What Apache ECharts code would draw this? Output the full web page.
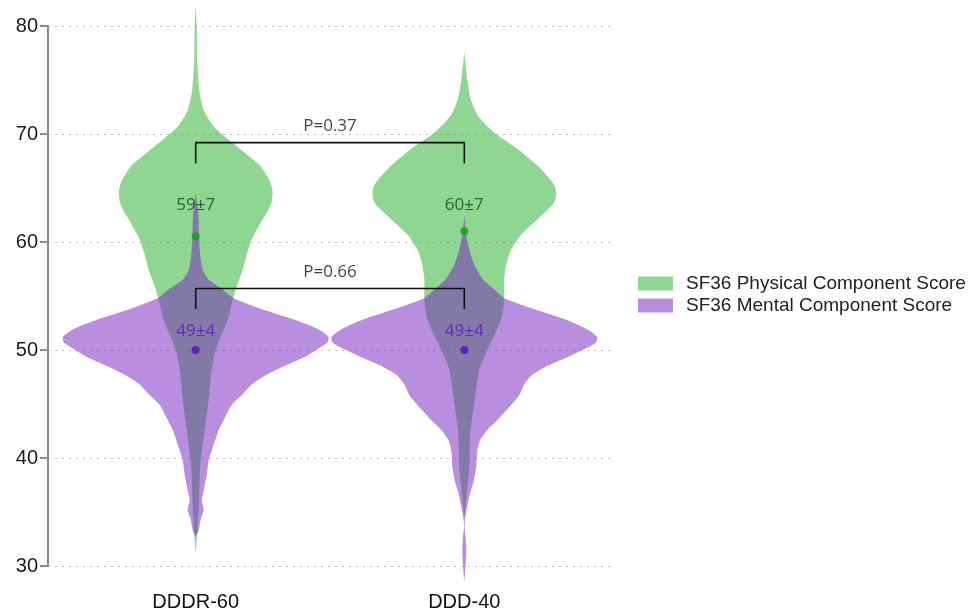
<!DOCTYPE html>
<html>
<head>
<meta charset="utf-8">
<title>SF36 violin</title>
<script src="https://cdn.jsdelivr.net/npm/echarts@6/dist/echarts.min.js"></script>
<style>
  html, body { margin: 0; padding: 0; background: #fff; }
  #chart { width: 969px; height: 613px; }
</style>
</head>
<body>
<div id="chart"></div>
<script>
// groups on the x axis (positions 1 and 2)
const groups = ["DDDR-60", "DDD-40"];
const seriesNames = ["SF36 Physical Component Score", "SF36 Mental Component Score"];

// violin outlines: [score, half width of the density]
const pcsDDDR60 = [[81.9, 0], [80, 1], [76.9, 1.5], [74.1, 3.5], [72.2, 8], [70.8, 17], [70, 26], [68.5, 46], [67.1, 64],
  [65.7, 74], [65, 76.5], [64.4, 77], [63.7, 76], [63, 73], [61.6, 64], [60.2, 56], [58.8, 51], [57.4, 47], [55.6, 40],
  [54.6, 37], [52.8, 32], [50, 20], [48.2, 16], [45.4, 13], [42.6, 9], [39.2, 4.5], [36.1, 3.3], [33.6, 2], [31.2, 0]];
const pcsDDD40 = [[77.6, 0], [75, 3], [73.2, 6.5], [71.8, 13], [70.8, 22], [69.9, 33], [68.5, 55], [67.1, 73], [65.7, 87],
  [65.1, 91], [64.5, 92], [63.9, 91], [63.4, 88], [62, 72], [60.7, 57], [59.3, 47], [57.9, 42], [56.5, 40], [54.6, 40],
  [52.8, 37], [50, 23], [48.2, 15], [45.1, 10], [42.3, 6], [39.2, 5], [36.8, 2.5], [34.5, 0]];
const mcsDDDR60 = [[64.5, 0], [62.7, 2.5], [60.2, 3.5], [58.8, 4.5], [57.4, 7], [56.5, 13], [55.6, 27], [54.8, 38],
  [53.7, 69], [52.8, 99], [52.2, 116], [51.7, 127], [51.2, 133], [50.7, 132], [50.2, 124], [49.5, 112], [48.6, 91],
  [47.7, 71], [46.8, 56], [45.8, 46], [44.9, 36], [43.5, 28], [42.6, 23], [40.7, 16], [39.8, 13], [38.4, 11], [37, 8],
  [36.1, 6], [35.2, 8], [34.3, 5], [33.3, 3], [32.7, 0]];
const mcsDDD40 = [[62.5, 0], [60.9, 1.5], [59.3, 5], [57.9, 10], [56.5, 19], [55.6, 30], [54.8, 40], [53.7, 73],
  [52.8, 102], [52.2, 117], [51.7, 127], [51.2, 133], [50.7, 132], [50.2, 123], [49.5, 107], [48.6, 85], [47.7, 68],
  [46.8, 60], [45.8, 55], [44.9, 47], [43.5, 33], [42.6, 23], [41.7, 16], [40.7, 13], [39.2, 12], [37.7, 9], [36.8, 6],
  [35.5, 3], [34.3, 0.7], [33.6, 0.3], [32.4, 1.5], [31.5, 2], [30.3, 1.5], [28.5, 0]];

// means, text shown beside them
const pcsMeans = [60.5, 61.0];
const mcsMeans = [50, 50];
const pcsText = ["59±7", "60±7"];
const mcsText = ["49±4", "49±4"];
const pcsTextAt = [63.4, 63.4];
const mcsTextAt = [51.7, 51.7];

// comparison brackets
const bracketTop = [69.2, 55.7];
const bracketDrop = 1.9;
const pValues = ["P=0.37", "P=0.66"];

const widthScale = 1 / 269;

const chart = echarts.init(document.getElementById("chart"), null, { renderer: "canvas" });

function violin(profiles) {
  return function (params, api) {
    const cx = api.value(0);
    const prof = profiles[params.dataIndex];
    const right = prof.map((p) => api.coord([cx + p[1] * widthScale, p[0]]));
    const left = prof.slice().reverse().map((p) => api.coord([cx - p[1] * widthScale, p[0]]));
    return {
      type: "polygon",
      shape: { points: right.concat(left), smooth: 0.2 },
      style: { fill: api.visual("color") }
    };
  };
}

const groupData = groups.map((g, i) => [i + 1, 50]);

const brackets = bracketTop.map((top) => ({
  type: "line",
  silent: true,
  symbol: "none",
  lineStyle: { color: "#111", width: 1.6 },
  data: [[1, top - bracketDrop], [1, top], [2, top], [2, top - bracketDrop]],
  z: 5
}));

const textFont = "'Open Sans', sans-serif";
const axisFont = "'Liberation Sans', Arial, sans-serif";

chart.setOption({
  animation: false,
  grid: { left: 48, right: 357, top: 26, bottom: 47 },
  legend: {
    data: seriesNames,
    orient: "vertical",
    left: 633,
    top: 269,
    icon: "rect",
    itemWidth: 35,
    itemHeight: 14,
    itemGap: 3,
    textStyle: { fontFamily: axisFont, fontSize: 19, color: "#222", padding: [0, 0, 0, 8] }
  },
  xAxis: {
    type: "value",
    min: 0.45,
    max: 2.55,
    interval: 0.05,
    axisLine: { show: false },
    axisTick: { show: false },
    splitLine: { show: false },
    axisLabel: {
      margin: 26,
      fontFamily: axisFont,
      fontSize: 20,
      color: "#111",
      formatter: (v) => {
        const k = Math.round(v);
        return Math.abs(v - k) < 1e-6 && groups[k - 1] ? groups[k - 1] : "";
      }
    }
  },
  yAxis: {
    type: "value",
    min: 30,
    max: 80,
    interval: 10,
    axisLine: { show: true, lineStyle: { color: "#8a8a8a", width: 2 } },
    axisTick: { show: true, length: 8, lineStyle: { color: "#8a8a8a", width: 2 } },
    splitLine: { show: true, lineStyle: { color: "#bdbdbd", width: 1, type: [2, 5] } },
    axisLabel: {
      margin: 10,
      fontFamily: axisFont,
      fontSize: 20,
      color: "#1a1a1a"
    }
  },
  series: [
    {
      name: seriesNames[0],
      type: "custom",
      renderItem: violin([pcsDDDR60, pcsDDD40]),
      itemStyle: { color: "rgba(34,173,40,0.5)" },
      encode: { x: 0, y: 1 },
      data: groupData,
      z: 2
    },
    {
      name: seriesNames[1],
      type: "custom",
      renderItem: violin([mcsDDDR60, mcsDDD40]),
      itemStyle: { color: "rgba(118,30,190,0.5)" },
      encode: { x: 0, y: 1 },
      data: groupData,
      z: 3
    },
    {
      type: "scatter",
      silent: true,
      symbolSize: 8,
      itemStyle: { color: "#13a013" },
      data: pcsMeans.map((m, i) => [i + 1, m]),
      z: 6
    },
    {
      type: "scatter",
      silent: true,
      symbolSize: 8,
      itemStyle: { color: "#5a0cbf" },
      data: mcsMeans.map((m, i) => [i + 1, m]),
      z: 6
    },
    {
      type: "scatter",
      silent: true,
      symbolSize: 1,
      itemStyle: { color: "transparent" },
      label: {
        show: true, position: "inside", fontFamily: textFont, fontSize: 17, color: "#173d17",
        formatter: (p) => pcsText[p.dataIndex]
      },
      data: pcsTextAt.map((y, i) => [i + 1, y]),
      z: 7
    },
    {
      type: "scatter",
      silent: true,
      symbolSize: 1,
      itemStyle: { color: "transparent" },
      label: {
        show: true, position: "inside", fontFamily: textFont, fontSize: 17, color: "#5a17b5",
        formatter: (p) => mcsText[p.dataIndex]
      },
      data: mcsTextAt.map((y, i) => [i + 1, y]),
      z: 7
    },
    ...brackets,
    {
      type: "scatter",
      silent: true,
      symbolSize: 1,
      itemStyle: { color: "transparent" },
      label: {
        show: true, position: "top", distance: 7, fontFamily: textFont, fontSize: 17, color: "#111",
        formatter: (p) => pValues[p.dataIndex]
      },
      data: bracketTop.map((y) => [1.5, y]),
      z: 7
    }
  ]
});
</script>
</body>
</html>
